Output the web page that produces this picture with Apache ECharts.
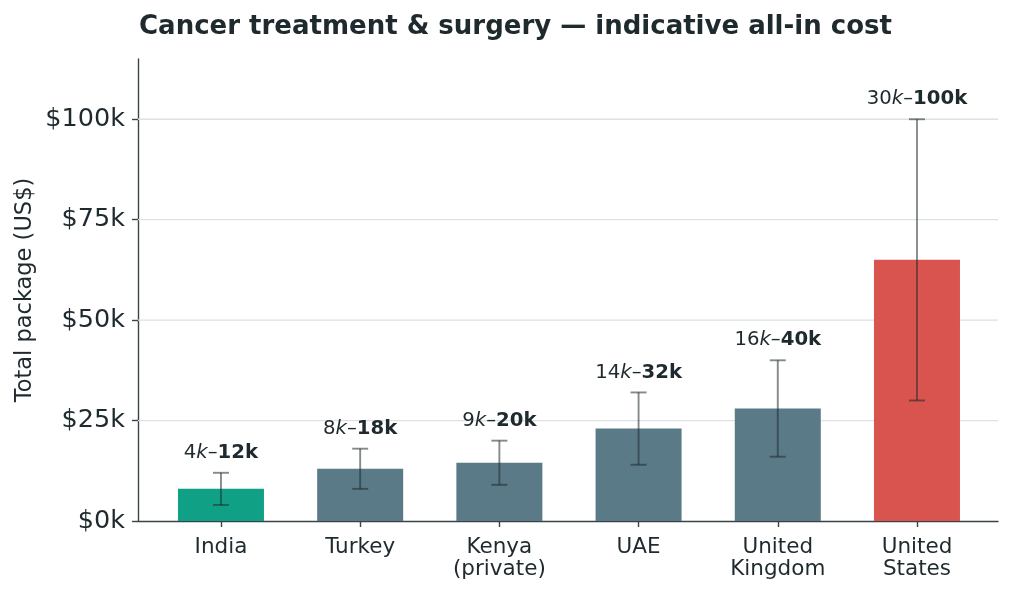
<!DOCTYPE html>
<html>
<head>
  <meta charset="utf-8">
  <title>Cancer treatment & surgery</title>
  <script src="https://cdn.jsdelivr.net/npm/echarts@6/dist/echarts.min.js"></script>
  <style>
    html, body { margin: 0; padding: 0; background: #fff; }
    #chart { width: 1014px; height: 594px; }
  </style>
</head>
<body>
  <div id="chart"></div>
  <script type="text/javascript">
    // data, in thousands of US$
    var countries = ['India', 'Turkey', 'Kenya\n(private)', 'UAE', 'United\nKingdom', 'United\nStates'];
    var midValues = [8, 13, 14.5, 23, 28, 65];
    var lowValues = [4, 8, 9, 14, 16, 30];
    var highValues = [12, 18, 20, 32, 40, 100];
    var barColors = ['#10a085', '#5a7a87', '#5a7a87', '#5a7a87', '#5a7a87', '#d9534f'];
    var yTicks = [0, 25, 50, 75, 100];

    var textColor = '#1f2a2e';
    var axisColor = '#3a4448';
    var fontName = 'DejaVu Sans';

    var myChart = echarts.init(document.getElementById('chart'));

    var catIdx = [];
    var barData = [];
    var errData = [];
    for (var i = 0; i < countries.length; i++) {
      catIdx.push(i);
      barData.push({ value: [i, midValues[i]], itemStyle: { color: barColors[i] } });
      errData.push([i, lowValues[i], highValues[i]]);
    }

    var labelRich = {
      n: { fontSize: 19.7, fill: textColor, fontFamily: fontName },
      i: { fontSize: 19.7, fill: textColor, fontStyle: 'italic', fontFamily: fontName },
      b: { fontSize: 19.7, fill: textColor, fontWeight: 'bold', fontFamily: fontName }
    };

    var option = {
      animation: false,
      textStyle: { fontFamily: fontName },
      title: {
        text: 'Cancer treatment & surgery \u2014 indicative all-in cost',
        left: 134,
        top: 9,
        textStyle: { fontSize: 26, fontWeight: 'bold', color: textColor, fontFamily: fontName }
      },
      grid: { left: 138, right: 16, top: 59, bottom: 73 },
      xAxis: {
        type: 'value',
        min: -0.596,
        max: 5.582,
        splitLine: { show: false },
        axisLine: { show: true, onZero: false, lineStyle: { color: axisColor, width: 1.4 } },
        axisTick: { show: true, customValues: catIdx, length: 6, lineStyle: { color: axisColor, width: 1.4 } },
        axisLabel: {
          customValues: catIdx,
          color: textColor,
          fontSize: 21.5,
          margin: 15,
          lineHeight: 22,
          formatter: function (v) { return countries[Math.round(v)]; }
        }
      },
      yAxis: {
        type: 'value',
        min: 0,
        max: 115,
        name: 'Total package (US$)',
        nameLocation: 'middle',
        nameGap: 101,
        nameMoveOverlap: false,
        nameTextStyle: { color: textColor, fontSize: 22.5 },
        axisLine: { show: true, onZero: false, lineStyle: { color: axisColor, width: 1.4 } },
        axisTick: { show: true, customValues: yTicks, length: 6, lineStyle: { color: axisColor, width: 1.4 } },
        axisLabel: {
          customValues: yTicks,
          color: textColor,
          fontSize: 25.5,
          margin: 13,
          padding: [3, 0, 0, 0],
          formatter: function (v) { return '$' + v + 'k'; }
        },
        splitLine: { show: false }
      },
      series: [
        {
          // light horizontal grid lines at the tick values
          type: 'custom',
          z: 1,
          silent: true,
          data: yTicks.slice(1),
          encode: { y: 0 },
          renderItem: function (params, api) {
            var y = api.coord([0, api.value(0)])[1];
            var cs = params.coordSys;
            return {
              type: 'line',
              shape: { x1: cs.x, y1: y, x2: cs.x + cs.width, y2: y },
              style: { stroke: '#dde1e1', lineWidth: 1.3 }
            };
          }
        },
        {
          type: 'bar',
          data: barData,
          barWidth: 86,
          z: 2
        },
        {
          // error bars plus the range label above each one
          type: 'custom',
          z: 3,
          data: errData,
          renderItem: function (params, api) {
            var x = api.value(0);
            var low = api.value(1);
            var high = api.value(2);
            var lo = api.coord([x, low]);
            var hi = api.coord([x, high]);
            var cap = 8;
            var st = { stroke: 'rgba(31,42,46,0.55)', lineWidth: 1.9 };
            return {
              type: 'group',
              children: [
                { type: 'line', shape: { x1: lo[0], y1: lo[1], x2: hi[0], y2: hi[1] }, style: st },
                { type: 'line', shape: { x1: lo[0] - cap, y1: lo[1], x2: lo[0] + cap, y2: lo[1] }, style: st },
                { type: 'line', shape: { x1: hi[0] - cap, y1: hi[1], x2: hi[0] + cap, y2: hi[1] }, style: st },
                {
                  type: 'text',
                  x: hi[0],
                  y: hi[1] - 20,
                  style: {
                    text: '{n|' + low + '}{i|k}{n|\u2013}{b|' + high + 'k}',
                    rich: labelRich,
                    fill: textColor,
                    align: 'center',
                    verticalAlign: 'middle'
                  }
                }
              ]
            };
          }
        }
      ]
    };

    myChart.setOption(option);
  </script>
</body>
</html>
